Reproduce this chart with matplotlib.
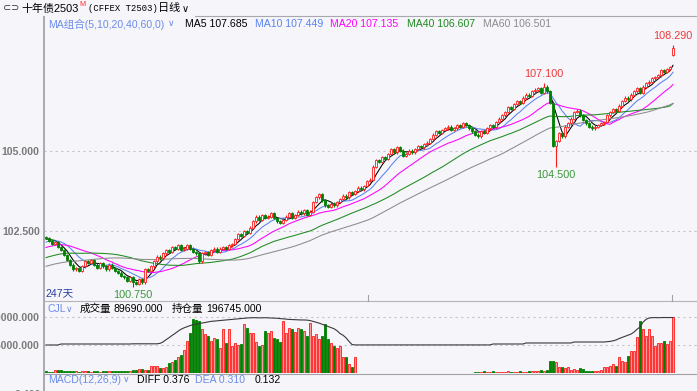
import numpy as np
import pandas as pd
import matplotlib
matplotlib.use("Agg")
import matplotlib.pyplot as plt
from matplotlib.lines import Line2D

plt.rcParams['font.family'] = ['Liberation Sans', 'Noto Sans CJK SC', 'DejaVu Sans']

# closes before the visible window (only feed the moving averages)
pre_close = [100.70, 100.75, 100.65, 100.80, 100.90, 100.85, 100.75, 100.80, 100.95, 100.90,
             100.85, 100.80, 100.90, 100.95, 101.00, 100.90, 100.85, 100.95, 101.00, 100.95,
             101.05, 101.15, 101.10, 101.20, 101.25, 101.30, 101.20, 101.35, 101.40, 101.30,
             101.35, 101.45, 101.40, 101.50, 101.45, 101.55, 101.50, 101.45, 101.60, 101.55,
             101.65, 101.70, 101.75, 101.70, 101.80, 101.85, 101.90, 101.85, 101.95, 102.00,
             101.95, 102.05, 102.10, 102.05, 102.15, 102.20, 102.25, 102.20, 102.30]

close = [102.28, 102.20, 102.10, 102.15, 102.00, 101.90,
         101.75, 101.60, 101.45, 101.30, 101.35, 101.25, 101.40, 101.55,
         101.50, 101.60, 101.45, 101.35, 101.50, 101.40, 101.30, 101.45, 101.35, 101.25,
         101.20, 101.10, 101.05, 100.95, 101.05, 100.90, 100.85, 101.00, 100.90,
         101.30, 101.25, 101.40, 101.55, 101.70, 101.65,
         101.80, 101.90, 101.85, 102.00, 101.95, 102.05, 101.90, 101.95, 102.05, 101.95, 101.85, 101.80,
         101.55, 101.80, 101.85, 101.75, 101.90, 101.95, 101.85, 101.95, 102.00, 101.95, 102.05, 102.10,
         102.25, 102.40, 102.35, 102.50, 102.45, 102.60,
         102.80, 102.95, 102.85, 103.00,
         102.90, 102.95, 103.05, 102.90, 102.80, 102.75, 102.85,
         102.95, 103.05, 102.90, 103.00, 103.10,
         103.05, 103.15, 103.00, 103.10,
         103.40, 103.55, 103.65,
         103.45, 103.30, 103.25, 103.35, 103.30, 103.40,
         103.50, 103.60, 103.55, 103.70, 103.65, 103.75,
         103.85, 103.80, 103.90, 104.05, 104.10,
         104.50, 104.70, 104.65, 104.80, 104.75,
         104.90, 105.05, 104.95, 105.10, 105.00,
         104.85, 104.90, 105.00, 104.95,
         105.05, 105.15, 105.10, 105.20, 105.25, 105.35,
         105.50, 105.60, 105.55, 105.65, 105.70,
         105.75, 105.65, 105.70, 105.80, 105.75, 105.85, 105.80, 105.70,
         105.60, 105.50, 105.45, 105.60,
         105.55, 105.70, 105.80, 105.75, 105.90,
         106.00, 106.10, 106.20, 106.35, 106.30, 106.45,
         106.55, 106.50, 106.65, 106.75, 106.70, 106.85,
         106.90, 106.95, 106.80, 107.00, 106.85,
         106.50, 105.15, 105.30, 105.55, 105.45, 105.75, 105.85,
         106.00, 106.20, 106.25, 106.10,
         105.95, 105.85, 105.75, 105.70,
         105.75, 105.80, 105.85, 105.90,
         106.10, 106.20, 106.30, 106.25, 106.40,
         106.55, 106.65, 106.60, 106.75,
         106.85, 106.95, 106.80, 107.00, 107.10,
         107.15, 107.25, 107.30, 107.35,
         107.50, 107.45, 107.55, 107.60, 108.20]

open_gaps = {209: 107.98}                      # opens that do not sit on the previous close
extreme_high = {166: 107.10, 209: 108.29}
extreme_low = {29: 100.75, 170: 104.50}
wick = 0.04

volume = [2500, 1800, 2200, 4500, 4800, 4200, 4000, 3500, 3000, 2500, 3000, 2000, 2500, 3200, 2800,
          2400, 3000, 2600, 2200, 2800, 3400, 2500, 3000, 2800, 3600, 3200, 2600, 3000, 3800, 4200, 5000,
          6400, 6000, 5000, 5500, 11000, 10500, 11000, 8000, 8000, 9000,
          16000, 17000, 21000, 25000, 29000, 37000, 51000, 64000, 86000, 85000,
          84000, 70000, 62000, 60000, 51000, 56000, 54000, 40000, 70000, 48000,
          70000, 43000, 48000, 45000, 46000, 78000, 72000, 64000, 64000, 50000,
          43000, 45000, 67000, 64000, 67000, 56000, 54000, 50000, 83000, 64000,
          72000, 70000, 66000, 72000, 70000, 67000, 59000, 80000, 59000, 62000,
          55000, 59000, 78000, 54000, 48000, 43000, 40000, 44000, 25000, 25000,
          14000, 9000, 25000] + [0] * 39 + [
          1500, 2000, 1800, 2500, 1600, 2200, 3000, 2000, 1800, 2400, 2000, 2600, 1800, 2200, 2000,
          3000, 2400, 2000, 2800, 3200, 2600, 3500, 4800,
          4000, 5500, 20000, 20000, 17000, 9000, 9000, 7500, 9000, 5500, 6000, 5500, 7500, 7000,
          4000, 3500, 4000, 4000, 4000, 5500,
          9000, 9000, 12000, 14000, 12000, 25000, 20000, 17000, 28000, 36000, 36000, 58000,
          84000, 71000, 60000, 71000, 60000, 44000, 48000, 48000, 52000, 46000, 52000, 89690]

open_interest = [99300] * 5 + [102800] * 24 + [103500] * 9 + [
    105000, 110000, 118000, 125000, 133000, 140000, 148000, 155000,
    160000, 164000, 168000, 171000, 173000,
    175000, 177000, 179000, 181000, 183000, 184000, 185000, 186000, 187000, 188000, 189000, 190000,
    191000, 192000, 193000, 194000, 195000,
    195500, 196000, 196000, 195500, 195500, 196000, 195500, 195000, 194500, 194000, 193000, 192000,
    191000, 190000, 189500, 189000, 188500, 188000, 188000, 187500,
    186000, 183000, 180000, 177000, 173000, 169000, 165000, 161000,
    157000, 150000, 140000, 134000, 125000, 112000, 101000] + [99500] * 46 + [102800] * 11 + \
    [106400] * 16 + [109900] * 11 + [
    111000, 112000, 114000, 117000, 122000, 126000, 130000, 134000, 138000,
    145000, 155000, 163000, 180000, 190000,
    195000, 196000, 196500, 196000, 196500, 196700, 196500, 196700, 196745]

ma_periods = [5, 10, 20, 40, 60]
ma_colors = ['#000000', '#5b82f0', '#ff00ff', '#1f8a1f', '#8c8c8c']
ma_header = ['MA5 107.685', 'MA10 107.449', 'MA20 107.135', 'MA40 106.607', 'MA60 106.501']
ma_header_x = [185, 255, 330, 407, 483]

assert len(close) == 210 and len(volume) == 210 and len(open_interest) == 210

n = len(close)
idx = np.arange(n)
c = np.array(close)
o = np.concatenate([[pre_close[-1]], c[:-1]])
for k, v in open_gaps.items():
    o[k] = v
hi = np.maximum(o, c) + wick
lo = np.minimum(o, c) - wick
for k, v in extreme_high.items():
    hi[k] = v
for k, v in extreme_low.items():
    lo[k] = v
up = c >= o

full = pd.Series(pre_close + close)
mas = [full.rolling(p).mean().to_numpy()[len(pre_close):] for p in ma_periods]

BG = '#f5f5fa'
RED = '#ff1a1a'
GREEN = '#008000'
W, H = 697, 391


def fx(x):
    return x / W


def fy(y):
    return 1 - y / H


fig = plt.figure(figsize=(6.97, 3.91), dpi=100, facecolor=BG)

# ---- main price panel
ax = fig.add_axes([fx(44), fy(301), fx(653), 285 / H])
ax.set_facecolor(BG)
ax.set_xlim((44 - 46) / 3, (697 - 46) / 3)
ax.set_ylim(105 - (301 - 150.7) / 32.1, 105 + (150.7 - 16) / 32.1)
for s in ax.spines.values():
    s.set_visible(False)
ax.set_xticks([])
ax.set_yticks([102.5, 105.0])
ax.set_yticklabels(['102.500', '105.000'])
ax.tick_params(axis='y', length=0, pad=3, labelsize=7.6, labelcolor='#7a7a7a')
for t in ax.get_yticklabels():
    t.set_fontweight('bold')
ax.yaxis.grid(True, ls=(0, (2, 3)), color='#c4c4ca', lw=0.8)
ax.set_axisbelow(True)

for k, p in enumerate(ma_periods):
    ax.plot(idx, mas[k], color=ma_colors[k], lw=0.75, zorder=2)

col = np.where(up, RED, GREEN)
ax.vlines(idx, lo, hi, colors=col, lw=0.8, zorder=3)
body = np.maximum(np.abs(c - o), 0.006)
ax.bar(idx, body, bottom=np.minimum(o, c), width=0.72,
       color=np.where(up, BG, GREEN), edgecolor=col, lw=0.6, zorder=4)

for k, v in extreme_high.items():
    ax.annotate(f'{v:.3f}', (k, v), xytext=(0, 3), textcoords='offset points',
                ha='center', va='bottom', fontsize=7.8, color='#f03a3a')
for k, v in extreme_low.items():
    ax.annotate(f'{v:.3f}', (k, v), xytext=(0, -2), textcoords='offset points',
                ha='center', va='top', fontsize=7.8, color='#3c963c')

# ---- volume panel
axv = fig.add_axes([fx(44), fy(373), fx(653), 72 / H])
axv.set_facecolor(BG)
axv.set_xlim(ax.get_xlim())
axv.set_ylim(0, 90000 * 72 / 56)
for s in axv.spines.values():
    s.set_visible(False)
axv.set_xticks([])
axv.set_yticks([45000, 90000])
axv.set_yticklabels(['45000.000', '90000.000'])
axv.tick_params(axis='y', length=0, pad=3, labelsize=7.6, labelcolor='#7a7a7a')
for t in axv.get_yticklabels():
    t.set_fontweight('bold')
axv.yaxis.grid(True, ls=(0, (2, 3)), color='#c4c4ca', lw=0.8)
axv.set_axisbelow(True)
vol = np.array(volume, dtype=float)
m = vol > 0
axv.bar(idx[m], vol[m], width=0.72, color=np.where(up, '#ff9a9a', GREEN)[m],
        edgecolor=col[m], lw=0.6, zorder=3)

axo = axv.twinx()
axo.set_ylim(0, 196745 * 72 / 55.5)
axo.axis('off')
axo.plot(idx, open_interest, color='#3a3a3a', lw=0.8)

# ---- frame lines
fig.add_artist(Line2D([fx(195), 1], [fy(16), fy(16)], color='#a8a8ae', lw=0.8))
fig.add_artist(Line2D([fx(44), fx(44)], [fy(17), 0], color='#a9a9b2', lw=1.4))
fig.add_artist(Line2D([fx(44), 1], [fy(301), fy(301)], color='#b4b4b8', lw=0.8))
fig.add_artist(Line2D([fx(44), 1], [fy(373.5), fy(373.5)], color='#a0a0a6', lw=0.8))
for xx in (368, 672):
    fig.add_artist(Line2D([fx(xx), fx(xx)], [fy(295), fy(301)], color='#a0a0a6', lw=0.8))


def label(x, y, s, color='black', size=7.6, **kw):
    fig.text(fx(x), fy(y), s, color=color, fontsize=size, ha='left', va='center', **kw)


# title row
label(3, 8, '⊂⊃', color='#333333', size=7, family='DejaVu Sans')
label(21, 8.5, '十年债2503', size=7.9)
label(79, 4.5, 'M', color='#ff2a2a', size=5.2)
label(88, 8.5, '(CFFEX T2503)', size=6.4, family='Liberation Mono')
label(158, 8.5, '日线', size=8.0)
label(182, 8.5, '∨', size=7, family='DejaVu Sans')

# MA row
label(48, 24, 'MA组合(5,10,20,40,60,0)', color='#6c8ce8')
label(168, 24, '∨', color='#6c8ce8', size=6.5, family='DejaVu Sans')
for k in range(len(ma_periods)):
    label(ma_header_x[k], 24, ma_header[k], color=ma_colors[k])

label(45, 293, '247天', color='#2a3fa0')

# volume header
label(48, 309, 'CJL', color='#6c8ce8')
label(66, 309, '∨', color='#6c8ce8', size=6.5, family='DejaVu Sans')
label(80, 309, '成交量')
label(114, 309, '89690.000')
label(172, 309, '持仓量')
label(206, 309, '196745.000')

# MACD header
label(48, 380, 'MACD(12,26,9)', color='#6c8ce8')
label(123, 380, '∨', color='#6c8ce8', size=6.5, family='DejaVu Sans')
label(137, 380, 'DIFF 0.376')
label(195, 380, 'DEA 0.310', color='#6c8ce8')
label(255, 380, '0.132')
fig.text(fx(41), fy(395), '0.400', color='#7a7a7a', fontsize=7.6, ha='right', va='center',
         fontweight='bold')

fig.savefig('out.png', dpi=100, facecolor=BG)
